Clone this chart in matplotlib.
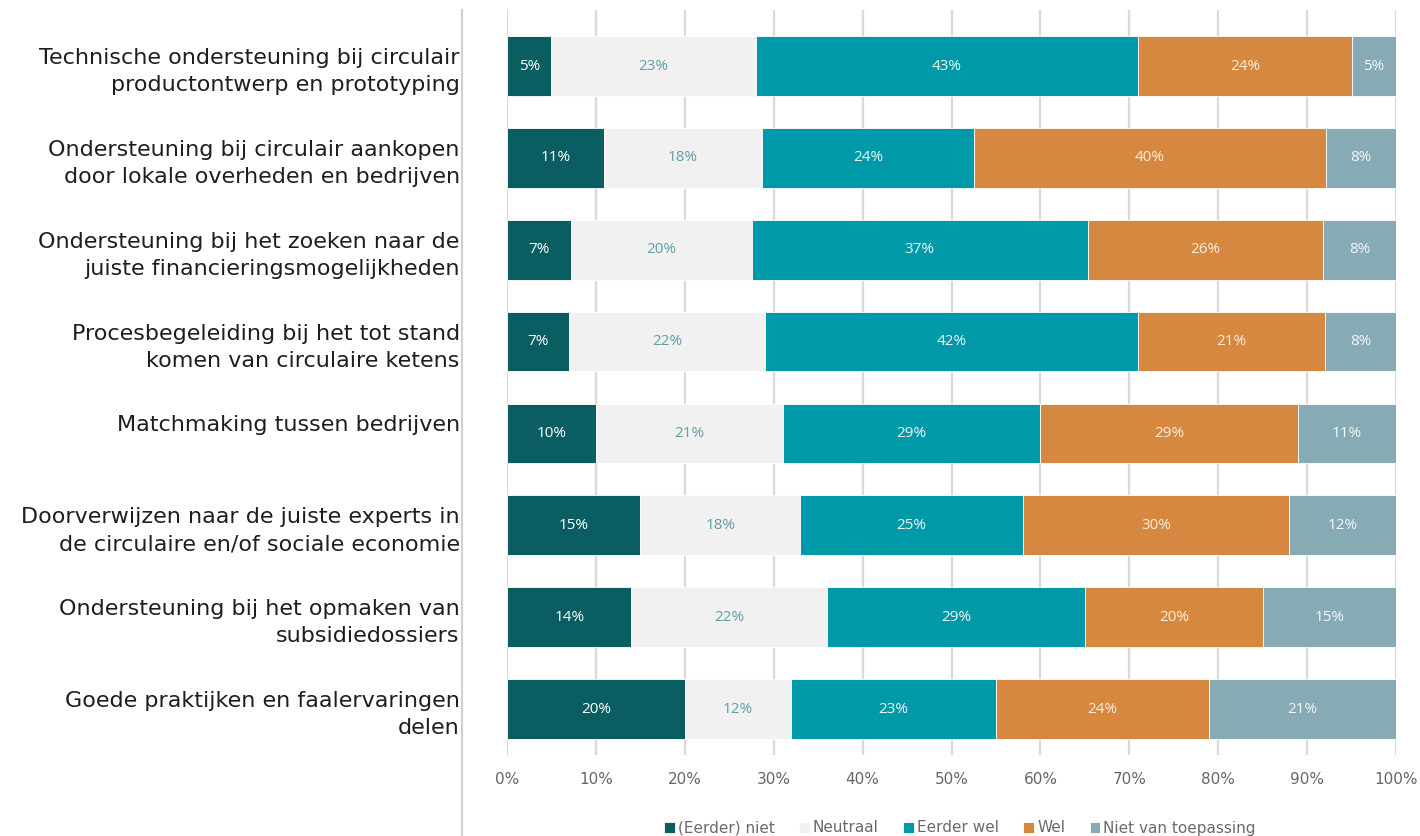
import matplotlib.pyplot as plt
from matplotlib.lines import Line2D
import numpy as np

# categories (top to bottom)
categories = [
    "Technische ondersteuning bij circulair\nproductontwerp en prototyping",
    "Ondersteuning bij circulair aankopen\ndoor lokale overheden en bedrijven",
    "Ondersteuning bij het zoeken naar de\njuiste financieringsmogelijkheden",
    "Procesbegeleiding bij het tot stand\nkomen van circulaire ketens",
    "Matchmaking tussen bedrijven\n ",
    "Doorverwijzen naar de juiste experts in\nde circulaire en/of sociale economie",
    "Ondersteuning bij het opmaken van\nsubsidiedossiers",
    "Goede praktijken en faalervaringen\ndelen",
]

series_names = ["(Eerder) niet", "Neutraal", "Eerder wel", "Wel", "Niet van toepassing"]

eerder_niet = [5, 11, 7, 7, 10, 15, 14, 20]
neutraal = [23, 18, 20, 22, 21, 18, 22, 12]
eerder_wel = [43, 24, 37, 42, 29, 25, 29, 23]
wel = [24, 40, 26, 21, 29, 30, 20, 24]
niet_van_toepassing = [5, 8, 8, 8, 11, 12, 15, 21]

colors = ["#0a5e62", "#f1f1f1", "#0099a8", "#d68840", "#86abb4"]
label_colors = ["#ffffff", "#5f9ea4", "#eef8f9", "#fbefe2", "#f2f7f8"]

xticks = [0, 10, 20, 30, 40, 50, 60, 70, 80, 90, 100]

data = np.array([eerder_niet, neutraal, eerder_wel, wel, niet_van_toepassing], dtype=float)
# bars are shown as share of 100% (rounded labels do not always add up to 100)
shares = data / data.sum(axis=0) * 100

fig = plt.figure(figsize=(14.2, 8.36), dpi=100)
ax = fig.add_axes([507 / 1420, 1 - 755 / 836, (1396 - 507) / 1420, (755 - 10) / 836])

y = np.arange(len(categories))
left = np.zeros(len(categories))
for i, name in enumerate(series_names):
    ax.barh(y, shares[i], left=left, height=0.65, color=colors[i],
            edgecolor="white", linewidth=0.6, label=name, zorder=3)
    for j in range(len(categories)):
        ax.text(left[j] + shares[i][j] / 2, y[j], f"{data[i][j]:.0f}%",
                ha="center", va="center", fontsize=11, color=label_colors[i],
                family="Open Sans", zorder=5)
    left += shares[i]

ax.set_xlim(0, 100)
ax.set_ylim(7.5, -0.61)
ax.set_xticks(xticks)
ax.set_xticklabels([f"{t}%" for t in xticks], fontsize=11, color="#666666")
ax.set_yticks(y)
ax.set_yticklabels(categories, fontsize=16, color="#1e1e1e", linespacing=1.45)
ax.tick_params(axis="y", length=0, pad=34)
ax.tick_params(axis="x", length=0, pad=12)
ax.grid(axis="x", color="#d9d9d9", linewidth=1.6, zorder=0)
ax.set_axisbelow(True)
for s in ax.spines.values():
    s.set_visible(False)

# separator line between labels and chart
fig.add_artist(Line2D([462 / 1420, 462 / 1420], [0, 1 - 10 / 836],
                      transform=fig.transFigure, color="#d0d0d0", linewidth=1.5))

leg = fig.legend(loc="center", bbox_to_anchor=(960 / 1420, 8 / 836), ncol=5,
                 frameon=False, fontsize=11, handlelength=0.7, handleheight=0.7,
                 handletextpad=0.2, columnspacing=1.6)
for t in leg.get_texts():
    t.set_color("#6a6a6a")

fig.savefig("out.png", dpi=100)
